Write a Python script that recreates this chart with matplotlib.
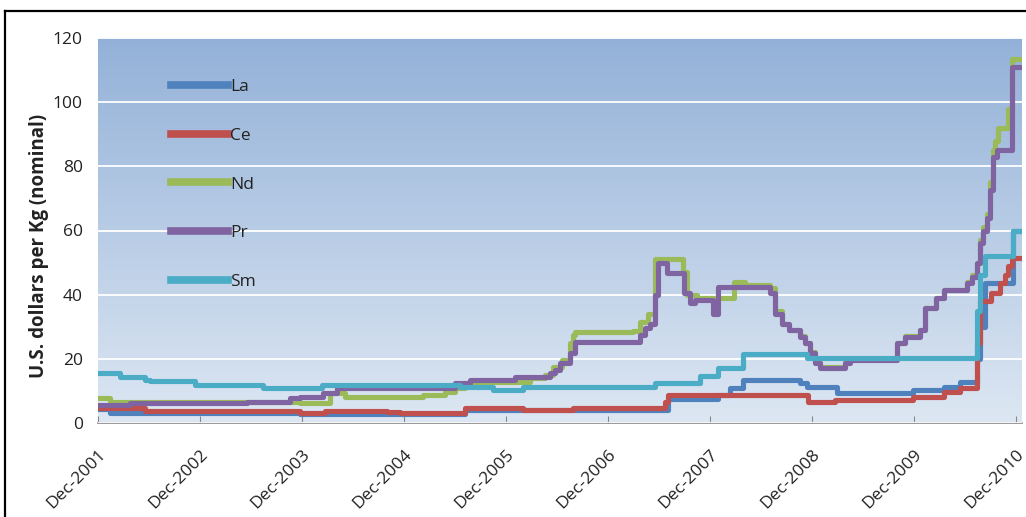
import numpy as np
import matplotlib.pyplot as plt
from matplotlib.colors import LinearSegmentedColormap
from matplotlib.lines import Line2D

plt.rcParams['font.family'] = ['Open Sans', 'DejaVu Sans']

# x = years since Dec-2001, values in US$/kg, step changes
year_labels = ['Dec-2001', 'Dec-2002', 'Dec-2003', 'Dec-2004', 'Dec-2005',
               'Dec-2006', 'Dec-2007', 'Dec-2008', 'Dec-2009', 'Dec-2010']

la_t = [0, 0.12, 1.98, 3.6, 4.66, 5.59, 6.08, 6.2, 6.32, 6.88, 6.95, 7.25, 7.99,
        8.3, 8.45, 8.62, 8.65, 8.7, 8.97, 9.07]
la_v = [4.5, 3.1, 2.9, 4.2, 4.2, 7.5, 8.7, 11, 13.4, 12.5, 11.2, 9.5, 10.3,
        11.2, 12.8, 20, 30, 43.6, 60, 60]

ce_t = [0, 0.46, 1.98, 2.23, 2.83, 2.96, 3.6, 4.17, 4.66, 5.56, 5.59, 6.96,
        7.23, 7.99, 8.3, 8.45, 8.62, 8.65, 8.76, 8.84, 8.89, 8.92, 8.96, 9.07]
ce_v = [4.7, 3.6, 3.0, 3.7, 3.3, 3.0, 4.7, 4.0, 4.6, 6.5, 8.7, 6.5,
        7.2, 8.0, 9.6, 11, 25, 38, 40.5, 43.6, 46, 49, 51.4, 51.4]

nd_t = [0, 0.12, 1.98, 2.27, 2.42, 3.19, 3.4, 3.5, 3.6, 3.84, 4.24, 4.38, 4.46,
        4.55, 4.63, 4.66, 4.68, 5.25, 5.31, 5.39, 5.46, 5.74, 5.78, 5.87, 6.24,
        6.34, 6.59, 6.64, 6.71, 6.78, 6.88, 6.93, 6.98, 7.03, 7.08, 7.32, 7.37,
        7.83, 7.91, 8.06, 8.11, 8.22, 8.3, 8.52, 8.57, 8.62, 8.65, 8.68, 8.72,
        8.75, 8.78, 8.8, 8.82, 8.92, 8.96, 9.07]
nd_v = [7.8, 6.5, 6.2, 9.3, 8.0, 8.7, 9.7, 10.9, 12.5, 12.8, 14, 15, 17.4,
        19.6, 25, 27.4, 28.3, 28.8, 31.5, 34, 51, 47, 40, 39, 44,
        43, 42, 35, 31, 29, 27, 25, 22, 19, 17.5, 19, 20,
        25, 27, 29, 36, 39, 41.5, 44, 46, 50, 57, 61, 65,
        75, 85, 88, 92, 98, 113.5, 113.5]

pr_t = [0, 0.31, 1.46, 1.88, 1.98, 2.21, 2.34, 3.45, 3.5, 3.65, 4.09, 4.43,
        4.48, 4.53, 4.63, 4.68, 5.31, 5.36, 5.41, 5.46, 5.49, 5.58, 5.75, 5.8,
        5.85, 6.03, 6.08, 6.59, 6.64, 6.71, 6.78, 6.88, 6.93, 6.98, 7.03, 7.08,
        7.32, 7.37, 7.83, 7.91, 8.06, 8.11, 8.22, 8.3, 8.52, 8.57, 8.62, 8.65,
        8.68, 8.72, 8.75, 8.78, 8.81, 8.96, 9.07]
pr_v = [5.6, 6.2, 6.5, 7.8, 8.1, 9.5, 10.9, 10.9, 12.5, 13.4, 14.3, 15.6,
        16.5, 18.7, 21.8, 25.3, 27.4, 29.6, 31, 40, 50, 46.7, 40.5, 37.4,
        38.3, 34, 42.4, 40.5, 34, 31, 29, 26.8, 25, 21.8, 18.7, 17,
        18.7, 19.6, 25, 26.8, 29, 36, 39, 41.4, 43.6, 45.5, 50, 56,
        60, 64, 72.6, 83, 85, 111, 111]

sm_t = [0, 0.22, 0.46, 0.51, 0.95, 1.62, 2.2, 3.55, 3.87, 4.17, 5.46, 5.9,
        6.08, 6.32, 6.95, 8.62, 8.65, 8.7, 8.97, 9.07]
sm_v = [15.6, 14.3, 13.4, 13.0, 11.8, 11.0, 11.8, 11.2, 10.4, 11.2, 12.5, 14.6,
        17, 21.5, 20.4, 35, 46, 52, 60, 60]

series = [('La', la_t, la_v, '#4F81BD'),
          ('Ce', ce_t, ce_v, '#C0504D'),
          ('Nd', nd_t, nd_v, '#9BBB59'),
          ('Pr', pr_t, pr_v, '#8064A2'),
          ('Sm', sm_t, sm_v, '#4BACC6')]

fig = plt.figure(figsize=(10.26, 5.17), dpi=100)
ax = fig.add_axes([98 / 1026, 1 - 423 / 517, 924 / 1026, 385 / 517])

xmax = 9.06
grad = LinearSegmentedColormap.from_list('bg', ['#93B1D8', '#DDE7F3'])
ax.imshow(np.linspace(0, 1, 256).reshape(-1, 1), cmap=grad, aspect='auto',
          extent=[0, xmax, 0, 120], zorder=0)

for name, t, v, c in series:
    ax.plot(t, v, drawstyle='steps-post', color=c, lw=3.7, label=name,
            solid_joinstyle='round', zorder=3)

ax.set_xlim(0, xmax)
ax.set_ylim(0, 120)
ax.set_yticks(range(0, 121, 20))
ax.yaxis.grid(True, color='white', lw=1.3)
ax.set_axisbelow(False)
for gl in ax.get_ygridlines():
    gl.set_zorder(1)
ax.set_xticks(range(10))
ax.set_xticklabels(year_labels, rotation=45, ha='right', rotation_mode='anchor')
ax.tick_params(axis='x', direction='in', length=5, color='#888888', labelsize=12.5,
               pad=17, labelcolor='#222222')
ax.tick_params(axis='y', length=0, labelsize=12.5, pad=11, labelcolor='#222222')
for s in ['top', 'right', 'left']:
    ax.spines[s].set_visible(False)
ax.spines['bottom'].set_color('#888888')
ax.spines['bottom'].set_linewidth(1.2)

ax.set_ylabel('U.S. dollars per Kg (nominal)', fontsize=13.5, fontweight='bold',
              color='#222222')
ax.yaxis.set_label_coords(-0.053, 0.46)

leg = ax.legend(loc='upper left', bbox_to_anchor=(0.079, 0.894), frameon=False,
                fontsize=12.5, handlelength=3.3, handletextpad=0.1, labelspacing=1.88,
                borderaxespad=0, borderpad=0)
for h in leg.get_lines():
    h.set_linewidth(5.5)
for txt in leg.get_texts():
    txt.set_color('#222222')

fig.add_artist(Line2D([5 / 1026, 1], [1 - 11 / 517] * 2, transform=fig.transFigure,
                      color='black', lw=1.6))
fig.add_artist(Line2D([5 / 1026] * 2, [0, 1 - 11 / 517], transform=fig.transFigure,
                      color='black', lw=1.6))

fig.savefig('out.png', dpi=100)
